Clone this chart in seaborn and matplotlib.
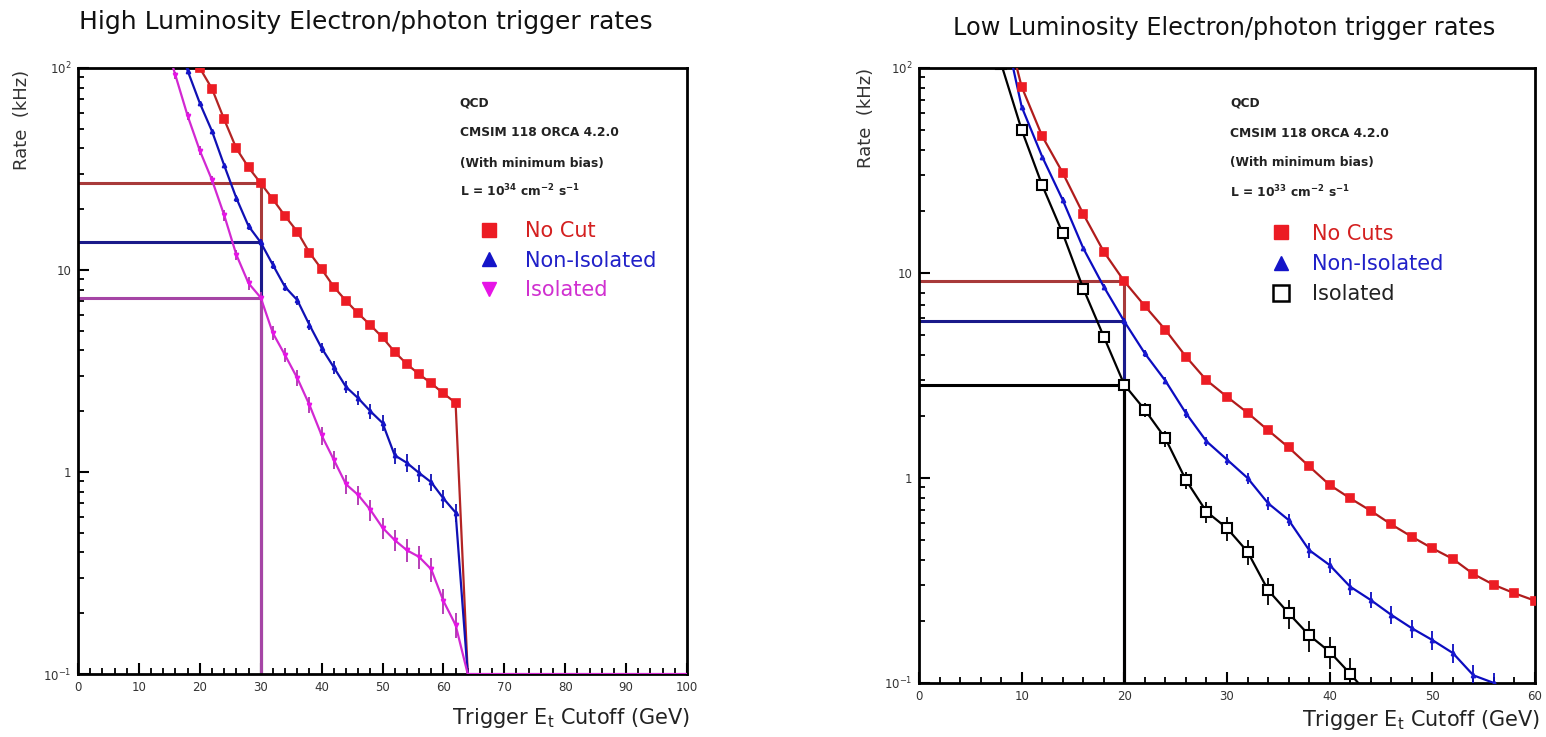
import numpy as np
import pandas as pd
import matplotlib
matplotlib.use("Agg")
import matplotlib.pyplot as plt
import seaborn as sns
from matplotlib.lines import Line2D
from matplotlib.ticker import MultipleLocator, FixedLocator, FixedFormatter, LogLocator, NullFormatter

nan = np.nan

# ---------------- data: high luminosity (left) ----------------
E_high = [14, 16, 18, 20, 22, 24, 26, 28, 30, 32, 34, 36, 38, 40, 42, 44, 46, 48, 50,
          52, 54, 56, 58, 60, 62, 64]
nocut_high = [nan, nan, 140, 100, 79, 55.7, 40.0, 32.2, 26.9, 22.4, 18.5, 15.5, 12.2, 10.1,
              8.26, 7.04, 6.10, 5.34, 4.64, 3.93, 3.42, 3.05, 2.75, 2.45, 2.2, 0]
noniso_high = [nan, 150, 97, 67, 48.7, 33, 22.7, 16.5, 13.7, 10.6, 8.24, 7.1, 5.35, 4.11,
               3.3, 2.64, 2.32, 2.0, 1.75, 1.21, 1.11, 0.99, 0.89, 0.74, 0.63, 0]
noniso_high_relerr = [nan, 0.03, 0.03, 0.03, 0.03, 0.03, 0.04, 0.04, 0.04, 0.05, 0.05, 0.05,
                      0.06, 0.06, 0.07, 0.07, 0.08, 0.08, 0.09, 0.09, 0.10, 0.10, 0.10, 0.10,
                      0.10, nan]
E_iso_high = [14, 16, 18, 20, 22, 24, 26, 28, 30, 32, 34, 36, 38, 40, 42, 44, 46, 48, 50,
              52, 54, 56, 58, 60, 62, 64, 66, 68, 70, 72, 74, 76, 78, 80, 82, 84, 86, 88,
              90, 92, 94, 96, 98, 100]
iso_high = [145, 92, 58, 39, 27.9, 18.7, 11.9, 8.6, 7.3, 4.87, 3.79, 2.92, 2.15, 1.52, 1.15,
            0.87, 0.77, 0.65, 0.53, 0.46, 0.41, 0.38, 0.33, 0.23, 0.175, 0, 0, 0, 0, 0, 0,
            0, 0, 0, 0, 0, 0, 0, 0, 0, 0, 0, 0, 0]
iso_high_relerr = [0.04, 0.04, 0.05, 0.05, 0.05, 0.06, 0.06, 0.07, 0.07, 0.08, 0.08, 0.09,
                   0.09, 0.10, 0.10, 0.11, 0.11, 0.12, 0.12, 0.12, 0.13, 0.13, 0.14, 0.14,
                   0.14] + [nan] * 19
cut_high = 30
cut_rates_high = [26.9, 13.7, 7.3]

# ---------------- data: low luminosity (right) ----------------
E_low = [6, 8, 10, 12, 14, 16, 18, 20, 22, 24, 26, 28, 30, 32, 34, 36, 38, 40, 42, 44, 46,
         48, 50, 52, 54, 56, 58, 60]
nocuts_low = [nan, 200, 81, 46.5, 30.8, 19.4, 12.7, 9.1, 6.9, 5.28, 3.91, 3.0, 2.49, 2.08,
              1.71, 1.41, 1.14, 0.925, 0.796, 0.692, 0.594, 0.517, 0.454, 0.403, 0.34,
              0.301, 0.274, 0.252]
noniso_low = [nan, 185, 64.7, 36.9, 22.7, 13.2, 8.57, 5.8, 4.05, 2.98, 2.07, 1.51, 1.23, 1.0,
              0.753, 0.624, 0.445, 0.376, 0.295, 0.254, 0.215, 0.185, 0.162, 0.14, 0.109,
              0.1, 0.085, nan]
noniso_low_relerr = [nan, 0.02, 0.02, 0.02, 0.03, 0.03, 0.03, 0.04, 0.04, 0.04, 0.05, 0.05,
                     0.06, 0.06, 0.07, 0.07, 0.08, 0.08, 0.09, 0.09, 0.10, 0.10, 0.11, 0.11,
                     0.12, 0.12, 0.12, nan]
iso_low = [200, 105, 49.9, 26.8, 15.6, 8.4, 4.89, 2.85, 2.15, 1.56, 0.977, 0.685, 0.569,
           0.437, 0.284, 0.219, 0.171, 0.142, 0.111, 0.085, nan, nan, nan, nan, nan, nan,
           nan, nan]
iso_low_relerr = [0.03, 0.03, 0.03, 0.04, 0.04, 0.05, 0.06, 0.07, 0.08, 0.09, 0.10, 0.12,
                  0.13, 0.14, 0.15, 0.16, 0.17, 0.18, 0.19, 0.2, nan, nan, nan, nan, nan,
                  nan, nan, nan]
cut_low = 20
cut_rates_low = [9.1, 5.8, 2.85]

ytick_vals = [0.1, 1, 10, 100]
ytick_labels = ["$10^{-1}$", "1", "10", "$10^{2}$"]
xticks_high = [0, 10, 20, 30, 40, 50, 60, 70, 80, 90, 100]
xticks_low = [0, 10, 20, 30, 40, 50, 60]

info_high = ["QCD", "CMSIM 118 ORCA 4.2.0", "(With minimum bias)",
             r"L = 10$^{34}$ cm$^{-2}$ s$^{-1}$"]
info_low = ["QCD", "CMSIM 118 ORCA 4.2.0", "(With minimum bias)",
            r"L = 10$^{33}$ cm$^{-2}$ s$^{-1}$"]
legend_high = ["No Cut", "Non-Isolated", "Isolated"]
legend_low = ["No Cuts", "Non-Isolated", "Isolated"]

# ---------------- style ----------------
sns.set_theme(style="white")
plt.rcParams["font.family"] = ["DejaVu Sans"]
plt.rcParams["mathtext.default"] = "regular"

YMIN, YMAX = 0.1, 100

fig = plt.figure(figsize=(15.46, 7.37), dpi=100)
W, H = 1546, 737


def axes_px(x0, x1, y0, y1):
    return fig.add_axes([x0 / W, 1 - y1 / H, (x1 - x0) / W, (y1 - y0) / H])


ax1 = axes_px(78, 687, 68, 674)
ax2 = axes_px(919, 1535, 68, 683)


def draw_series(ax, x, y, line_color, marker, mcolor, ms, relerr=None, mfc=None, lw=1.6,
                ecolor=None, mew=1.2):
    x = np.asarray(x, float)
    y = np.asarray(y, float)
    ok = ~np.isnan(y)
    yl = np.where(y > 0, y, YMIN)
    df = pd.DataFrame({"x": x[ok], "y": yl[ok]})
    sns.lineplot(data=df, x="x", y="y", ax=ax, color=line_color, lw=lw, estimator=None,
                 sort=False, zorder=3)
    pos = ok & (y > 0)
    if relerr is not None:
        re = np.asarray(relerr, float)
        m = pos & ~np.isnan(re)
        ax.errorbar(x[m], y[m], yerr=y[m] * re[m], fmt="none",
                    ecolor=ecolor or line_color, elinewidth=1.3, capsize=0, zorder=3)
    ax.plot(x[pos], y[pos], ls="none", marker=marker, ms=ms,
            mfc=mfc if mfc is not None else mcolor, mec=mcolor, mew=mew, zorder=4)


def style_axes(ax, xmax, xticks):
    ax.set_yscale("log")
    ax.set_xlim(0, xmax)
    ax.set_ylim(YMIN, YMAX)
    ax.xaxis.set_major_locator(FixedLocator(xticks))
    ax.xaxis.set_minor_locator(MultipleLocator(2))
    ax.yaxis.set_major_locator(FixedLocator(ytick_vals))
    ax.yaxis.set_major_formatter(FixedFormatter(ytick_labels))
    ax.yaxis.set_minor_locator(LogLocator(base=10, subs=np.arange(2, 10)))
    ax.yaxis.set_minor_formatter(NullFormatter())
    ax.tick_params(which="both", direction="in", bottom=True, left=True, top=False,
                   right=False, colors="black", labelcolor="#333333", labelsize=8.5)
    ax.tick_params(which="major", length=8, width=1.5, pad=5)
    ax.tick_params(which="minor", length=4.5, width=1.3)
    for s in ax.spines.values():
        s.set_linewidth(2.0)
        s.set_color("black")
    ax.set_xlabel("")
    ax.set_ylabel("")
    ax.grid(False)


# ---------------- left panel ----------------
thr_cols_high = ["#a83a3a", "#1a1a8a", "#a545a5"]
for val, c in zip(cut_rates_high, thr_cols_high):
    ax1.plot([0, cut_high], [val, val], color=c, lw=2.2, zorder=2)
    ax1.plot([cut_high, cut_high], [val, YMIN], color=c, lw=2.2, zorder=2)

draw_series(ax1, E_high, nocut_high, "#b32424", "s", "#ec1c24", 5.5)
draw_series(ax1, E_high, noniso_high, "#1010b4", "^", "#1414c8", 3,
            relerr=noniso_high_relerr)
draw_series(ax1, E_iso_high, iso_high, "#d228d2", "v", "#e614e6", 3,
            relerr=iso_high_relerr, ecolor="#b030b0")
style_axes(ax1, 100, xticks_high)

for i, t in enumerate(info_high):
    ax1.text(0.627, [0.942, 0.893, 0.843, 0.797][i], t, transform=ax1.transAxes,
             fontsize=8.8, fontweight="bold", va="center", ha="left", color="#222222")

hl = [Line2D([], [], ls="none", marker="s", ms=10, mfc="#ec1c24", mec="#ec1c24"),
      Line2D([], [], ls="none", marker="^", ms=10, mfc="#1414c8", mec="#1414c8"),
      Line2D([], [], ls="none", marker="v", ms=10, mfc="#e614e6", mec="#e614e6")]
ax1.legend(hl, legend_high, loc="upper left", bbox_to_anchor=(0.658, 0.747),
           frameon=False, fontsize=15, handlelength=1.0, handletextpad=1.2,
           labelspacing=0.45, borderpad=0, borderaxespad=0,
           labelcolor=["#d42020", "#2020c8", "#d030d0"])

# ---------------- right panel ----------------
thr_cols_low = ["#a83a3a", "#1a1a8a", "black"]
for val, c in zip(cut_rates_low, thr_cols_low):
    ax2.plot([0, cut_low], [val, val], color=c, lw=2.2, zorder=2)
    ax2.plot([cut_low, cut_low], [val, YMIN], color=c, lw=2.2, zorder=2)

draw_series(ax2, E_low, nocuts_low, "#b01c1c", "s", "#ec1c24", 5.5)
draw_series(ax2, E_low, noniso_low, "#0c0cc0", "^", "#1818d0", 3,
            relerr=noniso_low_relerr)
draw_series(ax2, E_low, iso_low, "black", "s", "black", 6.5, relerr=iso_low_relerr,
            mfc="white", mew=1.5)
style_axes(ax2, 60, xticks_low)

for i, t in enumerate(info_low):
    ax2.text(0.505, [0.943, 0.894, 0.847, 0.798][i], t, transform=ax2.transAxes,
             fontsize=8.8, fontweight="bold", va="center", ha="left", color="#222222")

hl2 = [Line2D([], [], ls="none", marker="s", ms=10, mfc="#ec1c24", mec="#ec1c24"),
       Line2D([], [], ls="none", marker="^", ms=10, mfc="#1414c8", mec="#1414c8"),
       Line2D([], [], ls="none", marker="s", ms=11, mfc="white", mec="black", mew=1.8)]
ax2.legend(hl2, legend_low, loc="upper left", bbox_to_anchor=(0.57, 0.747),
           frameon=False, fontsize=15, handlelength=1.0, handletextpad=1.0,
           labelspacing=0.5, borderpad=0, borderaxespad=0,
           labelcolor=["#d42020", "#2020c8", "#222222"])

# ---------------- titles & axis labels ----------------
fig.text(366 / W, 1 - 22 / H, "High Luminosity Electron/photon trigger rates",
         ha="center", va="center", fontsize=18, color="#111111")
fig.text(1224 / W, 1 - 28 / H, "Low Luminosity Electron/photon trigger rates",
         ha="center", va="center", fontsize=17.3, color="#111111")
fig.text(22 / W, 1 - 70 / H, "Rate  (kHz)", rotation=90, ha="center", va="top",
         fontsize=13, color="#333333")
fig.text(866 / W, 1 - 68 / H, "Rate  (kHz)", rotation=90, ha="center", va="top",
         fontsize=13, color="#333333")
fig.text(690 / W, 1 - 718 / H, "Trigger E$_t$ Cutoff (GeV)", ha="right", va="center",
         fontsize=15, color="#222222")
fig.text(1540 / W, 1 - 720 / H, "Trigger E$_t$ Cutoff (GeV)", ha="right", va="center",
         fontsize=15, color="#222222")

fig.savefig("out.png", dpi=100, facecolor="white")
